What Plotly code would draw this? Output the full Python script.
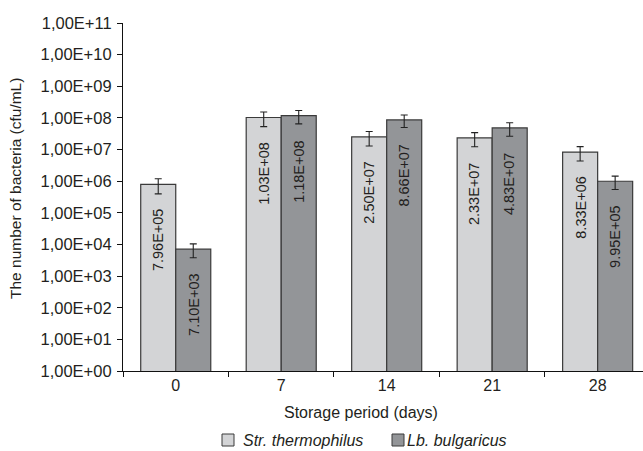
import math
import plotly.graph_objects as go

# Storage period (days) and counts (cfu/mL)
days = ["0", "7", "14", "21", "28"]
str_thermophilus = [7.96e5, 1.03e8, 2.50e7, 2.33e7, 8.33e6]
lb_bulgaricus = [7.10e3, 1.18e8, 8.66e7, 4.83e7, 9.95e5]
str_err = [4.0e5, 5.0e7, 1.2e7, 1.1e7, 4.0e6]
lb_err = [3.3e3, 5.3e7, 3.7e7, 2.2e7, 4.5e5]
str_labels = ["7.96E+05", "1.03E+08", "2.50E+07", "2.33E+07", "8.33E+06"]
lb_labels = ["7.10E+03", "1.18E+08", "8.66E+07", "4.83E+07", "9.95E+05"]
series_names = ["Str. thermophilus", "Lb. bulgaricus"]
y_exponents = list(range(0, 12))
y_ticktext = ["1,00E+%02d" % e for e in y_exponents]

FONT = "Liberation Sans, Arial, sans-serif"
TXT = "#231f20"
LIGHT = "#d3d4d6"
DARK = "#939598"
EDGE = "#3a3a3a"

W, H = 643, 451
ML, MR, MT, MB = 123, 0, 23, 80
BARGAP = 0.336
half = (1 - BARGAP) / 4  # centre offset of each bar within its group

fig = go.Figure()
for name, vals, errs, color in [
    (series_names[0], str_thermophilus, str_err, LIGHT),
    (series_names[1], lb_bulgaricus, lb_err, DARK),
]:
    fig.add_trace(go.Bar(
        x=days, y=vals, name=name, showlegend=False,
        marker=dict(color=color, line=dict(color=EDGE, width=1.2)),
        error_y=dict(type="data", array=errs, visible=True,
                     color="#222", thickness=1.1, width=3.5),
    ))

# vertical value labels inside the bars
for i in range(len(days)):
    for vals, labels, off in [(str_thermophilus, str_labels, -half),
                              (lb_bulgaricus, lb_labels, half)]:
        fig.add_annotation(
            x=i + off, y=math.log10(vals[i]), xref="x", yref="y",
            text=labels[i], textangle=-90, showarrow=False,
            xanchor="center", yanchor="top", yshift=-22,
            font=dict(family=FONT, size=14.5, color=TXT),
        )

plot_w = W - ML - MR
plot_h = H - MT - MB

# axis titles
fig.add_annotation(
    x=0, y=(H - MB - 189) / plot_h, xref="paper", yref="paper",
    xshift=15 - ML, text="The number of bacteria (cfu/mL)", textangle=-90,
    showarrow=False, xanchor="center", yanchor="middle",
    font=dict(family=FONT, size=15.5, color=TXT),
)
fig.add_annotation(
    x=(361 - ML) / plot_w, y=0, xref="paper", yref="paper",
    yshift=-(412 - (H - MB)), text="Storage period (days)",
    showarrow=False, xanchor="center", yanchor="middle",
    font=dict(family=FONT, size=16, color=TXT),
)

# legend drawn as boxes and italic labels below the axis
legend_items = [(series_names[0], LIGHT, 222, 241), (series_names[1], DARK, 392, 405)]
for name, color, bx, tx in legend_items:
    fig.add_shape(
        type="rect", xref="paper", yref="paper",
        x0=(bx - ML) / plot_w, x1=(bx + 12 - ML) / plot_w,
        y0=(H - MB - 446) / plot_h, y1=(H - MB - 434) / plot_h,
        fillcolor=color, line=dict(color=EDGE, width=1),
    )
    fig.add_annotation(
        x=(tx - ML) / plot_w, y=(H - MB - 440) / plot_h, xref="paper", yref="paper",
        text="<i>%s</i>" % name, showarrow=False, xanchor="left", yanchor="middle",
        font=dict(family=FONT, size=16, color=TXT),
    )

fig.update_layout(
    width=W, height=H,
    margin=dict(l=ML, r=MR, t=MT, b=MB, pad=0),
    paper_bgcolor="white", plot_bgcolor="white",
    barmode="group", bargap=BARGAP, bargroupgap=0,
    font=dict(family=FONT, size=16, color=TXT),
    xaxis=dict(
        type="category", range=[-0.5, 4.43],
        showline=True, linecolor="#111", linewidth=1.2,
        ticks="outside", ticklen=5, tickcolor="#111", tickson="boundaries",
        showgrid=False, zeroline=False,
        tickfont=dict(family=FONT, size=16, color=TXT),
    ),
    yaxis=dict(
        type="log", range=[0, 11],
        tickvals=[10 ** e for e in y_exponents], ticktext=y_ticktext,
        showline=True, linecolor="#111", linewidth=1.2,
        ticks="outside", ticklen=5, tickcolor="#111", ticklabelstandoff=2,
        showgrid=False, zeroline=False,
        tickfont=dict(family=FONT, size=16.5, color=TXT),
    ),
)

fig.write_html("out.html")
